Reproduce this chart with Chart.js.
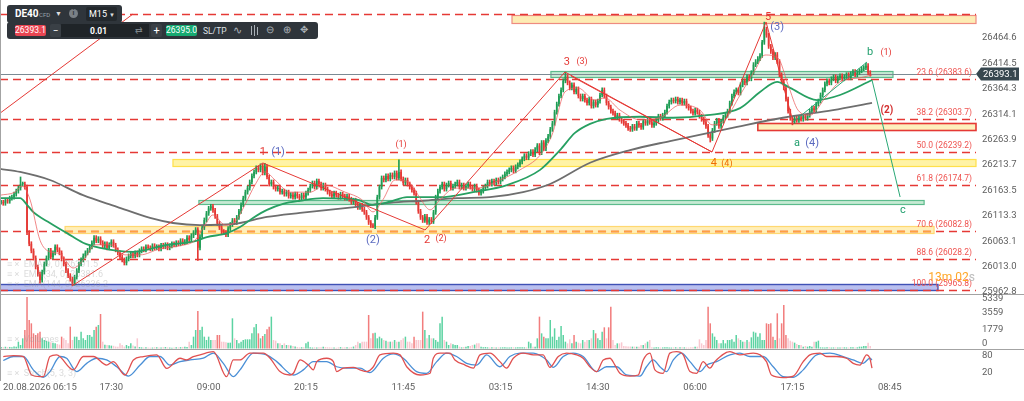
<!DOCTYPE html>
<html>
<head>
<meta charset="utf-8">
<title>DE40 M15</title>
<script src="https://cdn.jsdelivr.net/npm/chart.js@4.4.1/dist/chart.umd.min.js"></script>
<style>
  html, body { margin: 0; padding: 0; background: #fff; }
  #wrap { position: relative; width: 1024px; height: 401px; overflow: hidden; font-family: Roboto, Arial, sans-serif; }
  canvas { display: block; }
  .tb { position: absolute; background: #2f353b; border-radius: 3px; }
  .tb span, .tb div { position: absolute; white-space: nowrap; line-height: 1; color: #fff; }
  .box { border-radius: 2px; text-align: center; }
</style>
</head>
<body>
<div id="wrap">
  <canvas id="chart" width="1024" height="401"></canvas>

  <!-- instrument row -->
  <div class="tb" style="left:7px;top:5px;width:115px;height:18px;">
    <span style="left:8px;top:4px;font-size:10px;font-weight:700;">DE40</span>
    <span style="left:32px;top:7px;font-size:6px;color:#9aa3ab;">CFD</span>
    <span style="left:48px;top:6px;font-size:7px;color:#ddd;">▼</span>
    <div style="left:62px;top:4px;width:9px;height:9px;border-radius:50%;background:#7a8086;color:#2f353b;font-size:7px;font-weight:700;line-height:9px;text-align:center;">i</div>
    <div class="box" style="left:79px;top:2px;width:31px;height:14px;background:#23282c;">
      <span style="left:3px;top:3px;font-size:9px;">M15</span>
      <span style="left:23px;top:5px;font-size:6px;color:#ddd;">▼</span>
    </div>
  </div>

  <!-- order row -->
  <div class="tb" style="left:7px;top:22px;width:311px;height:17px;">
    <div class="box" id="bidBox" style="left:8px;top:3px;width:31px;height:11px;background:#e84552;font-size:8.5px;line-height:11px;"></div>
    <div class="box" style="left:43px;top:2px;width:11px;height:13px;background:#3a4046;font-size:10px;line-height:13px;">−</div>
    <div style="left:54px;top:2px;width:88px;height:13px;background:#1f2428;"></div>
    <span id="lotText" style="left:83px;top:5px;font-size:8.5px;font-weight:700;"></span>
    <span style="left:128px;top:4px;font-size:9px;color:#7d848a;">⇄</span>
    <div class="box" style="left:144px;top:2px;width:11px;height:13px;background:#3a4046;font-size:11px;line-height:13px;">+</div>
    <div class="box" id="askBox" style="left:159px;top:3px;width:31px;height:11px;background:#16a971;font-size:8.5px;line-height:11px;"></div>
    <span style="left:196px;top:5px;font-size:8.5px;color:#dfe3e6;">SL/TP</span>
    <span style="left:226px;top:3px;font-size:11px;color:#aab1b7;">∿</span>
    <div style="left:244px;top:4px;width:1px;height:9px;background:#aab1b7;"></div>
    <div style="left:247px;top:3px;width:1px;height:11px;background:#aab1b7;"></div>
    <div style="left:250px;top:5px;width:1px;height:8px;background:#aab1b7;"></div>
    <span style="left:259px;top:3px;font-size:10px;color:#aab1b7;">⊖</span>
    <span style="left:276px;top:3px;font-size:10px;color:#aab1b7;">⊕</span>
    <span style="left:293px;top:3px;font-size:10px;color:#aab1b7;">✥</span>
  </div>
</div>

<script>
// ---- axis / label data ----
const xTickBars = [6, 51, 96, 141, 186, 231, 276, 321, 366, 411];
const xTickLabels = ['20.08.2026 06:15', '17:30', '09:00', '20:15', '11:45', '03:15', '14:30', '06:00', '17:15', '08:45'];
const priceTicks = [26464.6, 26414.5, 26364.3, 26314.1, 26263.9, 26213.7, 26163.5, 26113.3, 26063.1, 26013.0, 25962.8];
const volumeTicks = [0, 1779, 3559, 5339];
const stochTicks = [20, 80];

const lastPrice = 26393.1;
const askPrice = 26395.0;
const lotSize = '0.01';

// ---- candles (M15 closes, open = previous close) ----
const firstOpen = 26140;
const closes = [
  26140, 26138, 26144, 26142, 26148, 26150, 26156, 26162, 26168, 26176,
  26176, 26170, 26080, 26058, 26044, 26030, 26012, 25998, 25986, 26002,
  26018, 26030, 26045, 26032, 26040, 26052, 26046, 26040, 26028, 26018,
  26005, 25995, 25988, 25980, 25992, 26005, 26018, 26026, 26034, 26040,
  26045, 26052, 26060, 26070, 26064, 26068, 26060, 26054, 26058, 26050,
  26056, 26062, 26055, 26046, 26040, 26032, 26026, 26020, 26028, 26034,
  26038, 26034, 26040, 26036, 26044, 26048, 26046, 26052, 26050, 26048,
  26054, 26050, 26052, 26048, 26055, 26052, 26056, 26050, 26054, 26058,
  26056, 26060, 26058, 26064, 26060, 26062, 26070, 26066, 26074, 26080,
  26086, 26050, 26072, 26090, 26105, 26118, 26128, 26132, 26124, 26112,
  26098, 26090, 26082, 26080, 26076, 26088, 26096, 26104, 26100, 26110,
  26122, 26135, 26148, 26160, 26168, 26180, 26192, 26200, 26208, 26204,
  26212, 26198, 26210, 26190, 26176, 26180, 26170, 26166, 26168, 26160,
  26162, 26156, 26160, 26152, 26155, 26150, 26156, 26152, 26148, 26154,
  26150, 26158, 26164, 26172, 26178, 26170, 26182, 26176, 26168, 26174,
  26166, 26160, 26156, 26152, 26158, 26154, 26150, 26156, 26152, 26148,
  26152, 26146, 26140, 26144, 26136, 26130, 26134, 26126, 26120, 26110,
  26100, 26094, 26092, 26110, 26150, 26170, 26188, 26184, 26192, 26186,
  26194, 26190, 26198, 26188, 26200, 26186, 26178, 26184, 26176, 26170,
  26164, 26158, 26140, 26122, 26110, 26104, 26112, 26100, 26106, 26102,
  26120, 26150, 26162, 26170, 26176, 26166, 26174, 26178, 26168, 26172,
  26176, 26180, 26170, 26174, 26168, 26172, 26176, 26170, 26166, 26172,
  26164, 26158, 26162, 26168, 26172, 26180, 26176, 26182, 26178, 26184,
  26180, 26186, 26190, 26196, 26200, 26204, 26208, 26202, 26210, 26214,
  26220, 26226, 26232, 26228, 26236, 26240, 26234, 26244, 26252, 26238,
  26258, 26246, 26262, 26270, 26284, 26296, 26318, 26334, 26350, 26362,
  26380, 26388, 26376, 26366, 26372, 26358, 26364, 26350, 26344, 26350,
  26342, 26336, 26344, 26330, 26338, 26332, 26340, 26352, 26362, 26350,
  26336, 26328, 26320, 26316, 26308, 26312, 26304, 26300, 26296, 26292,
  26286, 26284, 26290, 26286, 26296, 26292, 26288, 26300, 26296, 26302,
  26298, 26292, 26296, 26302, 26310, 26306, 26312, 26318, 26330, 26338,
  26342, 26340, 26344, 26338, 26342, 26336, 26340, 26330, 26326, 26320,
  26316, 26322, 26318, 26310, 26304, 26298, 26290, 26272, 26266, 26282,
  26296, 26302, 26290, 26300, 26308, 26312, 26320, 26336, 26350, 26358,
  26362, 26356, 26372, 26380, 26376, 26388, 26384, 26396, 26412, 26418,
  26424, 26430, 26456, 26482, 26470, 26448, 26438, 26426, 26432, 26418,
  26392, 26378, 26366, 26344, 26320, 26306, 26300, 26306, 26302, 26308,
  26304, 26310, 26306, 26312, 26320, 26326, 26322, 26334, 26340, 26352,
  26362, 26374, 26380, 26376, 26384, 26388, 26380, 26386, 26390, 26384,
  26388, 26392, 26386, 26394, 26398, 26392, 26396, 26400, 26404, 26406,
  26410, 26396, 26393.1
];
// bars whose wick sticks out further than usual
const spikeBars  = [9, 18, 33, 91, 122, 172, 184, 197, 261, 328, 353, 366, 400];
const spikeHighs = [26190, null, null, null, 26217, null, 26224, null, 26397, null, 26496, null, 26415];
const spikeLows  = [null, 25980, 25975, 26025, null, 26090, null, 26096, null, 26259, null, 26293, null];

const volumes = [
  150, 120, 180, 140, 160, 130, 200, 170, 708, 362,
  1054, 1918, 5339, 2956, 2610, 1572, 1400, 1572, 1745, 1054,
  881, 800, 708, 650, 605, 535, 466, 400, 1227, 1054,
  881, 535, 2264, 881, 1227, 1227, 881, 1745, 1054, 881,
  1400, 1400, 1227, 1918, 2264, 2437, 3578, 708, 400, 362,
  330, 300, 280, 200, 180, 535, 362, 200, 362, 250,
  535, 300, 200, 1054, 150, 120, 100, 130, 110, 90,
  100, 140, 120, 100, 110, 130, 150, 120, 100, 90,
  110, 130, 120, 140, 160, 180, 150, 708, 362, 1227,
  1918, 3890, 1918, 2264, 1227, 881, 1227, 881, 881, 881,
  1400, 1400, 708, 700, 640, 605, 605, 3129, 1054, 881,
  535, 708, 881, 951, 951, 951, 1572, 2195, 2541, 1572,
  1054, 1296, 1504, 1987, 2264, 3302, 881, 812, 535, 535,
  362, 535, 362, 362, 300, 259, 200, 150, 120, 130,
  140, 535, 708, 120, 100, 130, 110, 140, 120, 190,
  150, 130, 120, 110, 100, 90, 120, 140, 110, 130,
  120, 100, 150, 200, 362, 708, 535, 708, 708, 708,
  3474, 1054, 1572, 1642, 1054, 1227, 1054, 881, 800, 708,
  708, 708, 881, 708, 708, 881, 1054, 1227, 708, 708,
  535, 1227, 881, 881, 881, 3820, 1918, 1054, 1400, 1054,
  1054, 881, 708, 2610, 3302, 881, 708, 362, 535, 432,
  362, 362, 190, 120, 150, 190, 259, 259, 362, 400,
  535, 535, 190, 120, 150, 120, 100, 130, 120, 110,
  120, 110, 120, 130, 110, 100, 120, 130, 110, 120,
  120, 120, 120, 120, 708, 535, 190, 190, 1054, 3302,
  1572, 1227, 1054, 1054, 2956, 1227, 2091, 881, 1227, 2333,
  1400, 708, 535, 951, 535, 1400, 708, 605, 535, 881,
  708, 881, 881, 1054, 1918, 1572, 1054, 881, 1745, 2195,
  1054, 2195, 4338, 881, 362, 535, 535, 639, 260, 240,
  220, 200, 190, 190, 190, 190, 362, 362, 535, 708,
  881, 120, 110, 130, 120, 100, 110, 120, 130, 110,
  100, 120, 130, 110, 120, 140, 120, 110, 100, 120,
  130, 190, 190, 951, 535, 362, 881, 4338, 2610, 1572,
  1227, 881, 535, 535, 881, 535, 881, 881, 951, 708,
  1400, 1054, 881, 708, 708, 881, 708, 1158, 1745, 1642,
  1227, 1572, 881, 881, 2610, 2541, 2610, 1227, 881, 3647,
  1054, 2610, 4510, 1400, 1054, 812, 708, 605, 466, 362,
  362, 190, 259, 190, 259, 190, 708, 708, 812, 120,
  110, 100, 120, 130, 100, 110, 120, 100, 110, 130,
  120, 110, 100, 120, 130, 110, 120, 190, 190, 259,
  259, 605, 259
];

// ---- moving averages as [bar, price] ----
const emaFast = [
  [-0.5, 26154], [6.4, 26160], [9.7, 26172], [13.4, 26145], [18, 26065], [22.6, 26042], [27.3, 26038],
  [33.3, 26010], [38.8, 26030], [43.4, 26056], [50.4, 26056], [57.3, 26036], [64.3, 26036], [73.5, 26048],
  [82.8, 26054], [89.7, 26065], [94.3, 26095], [98, 26115], [103.6, 26095], [108.2, 26101], [112.8, 26135],
  [117.4, 26174], [122.1, 26200], [126.7, 26184], [133.6, 26160], [142.9, 26160], [149.8, 26174],
  [159.1, 26160], [166.9, 26145], [172, 26121], [176.6, 26145], [182.2, 26184], [189.1, 26178],
  [193.8, 26148], [198.4, 26125], [203, 26145], [209.9, 26168], [220.1, 26168], [230.8, 26184],
  [240, 26204], [249.3, 26233], [254.8, 26273], [260.8, 26358], [266.8, 26366], [274.7, 26342],
  [279.3, 26346], [286.3, 26322], [295.5, 26303], [304.8, 26307], [314, 26332], [323.3, 26322],
  [328.8, 26293], [334.8, 26303], [341.8, 26352], [348.7, 26401], [353.3, 26431], [359.3, 26425],
  [364, 26372], [368.6, 26322], [374.1, 26312], [381.1, 26346], [388, 26378], [397.3, 26386], [402.8, 26391.5]
];
const emaMid = [
  [-0.5, 26148], [8.8, 26148], [12, 26135], [14.8, 26121], [22.6, 26099], [30.5, 26079], [37.9, 26060],
  [45.8, 26050], [61, 26042], [76.7, 26056], [88.8, 26062], [95.2, 26071], [104.5, 26079], [110.5, 26091],
  [116.5, 26109], [123, 26125], [130.4, 26137], [138.3, 26143], [148.9, 26148], [164.6, 26145],
  [172, 26135], [179.9, 26141], [187.7, 26150], [203, 26150], [218.3, 26160], [234, 26174], [249.3, 26204],
  [258.5, 26243], [265.4, 26277], [272.4, 26295], [280.2, 26305], [295.5, 26309], [310.8, 26307],
  [326.5, 26312], [341.8, 26326], [351, 26358], [358.9, 26378], [364.9, 26366], [377.4, 26342],
  [388, 26352], [402.8, 26381.6]
];
const emaSlow = [
  [-0.5, 26206], [8.8, 26200], [22.6, 26184], [37.9, 26154], [53.6, 26131], [68.9, 26109], [79.5, 26099],
  [92, 26095], [107.3, 26097], [123, 26111], [138.3, 26119], [164.6, 26131], [179.9, 26139],
  [195.1, 26143], [210.9, 26148], [226.1, 26150], [241.4, 26160], [253.9, 26176], [272.4, 26218],
  [290.9, 26243], [309.4, 26261], [340.4, 26289], [361.6, 26307], [384.8, 26322], [402.8, 26336.2]
];

// ---- stochastic oscillator, [bar, value] ----
const stochK = [
  [1, 77], [5.7, 80], [10.3, 77], [14.1, 12], [18, 6], [19.5, 6], [22.6, 77], [25.7, 83], [33.4, 30], [38, 77],
  [42.7, 77], [48.8, 47], [51.9, 59], [57.3, 12], [61.2, 65], [65.8, 77], [72, 83], [76.6, 35], [82.8, 71],
  [85.8, 65], [88.9, 77], [92, 83], [98.2, 94], [104.3, 6], [107.4, 65], [110.5, 65], [115.1, 89], [121.3, 89],
  [124.4, 71], [129, 24], [133.6, 12], [135.2, 18], [138.3, 65], [142.1, 47], [144.4, 30], [146, 59],
  [150.6, 71], [153.7, 59], [155.2, 24], [158.3, 36], [162.9, 39], [166, 30], [169.1, 24], [172.2, 41],
  [175.2, 83], [181.4, 89], [184.5, 83], [187.6, 41], [193.8, 12], [198.4, 18], [199.9, 71], [203, 89],
  [207.6, 89], [209.9, 65], [214.6, 47], [218.4, 36], [221.5, 83], [226.1, 89], [230.7, 59], [233.8, 36],
  [236.9, 71], [241.5, 89], [246.1, 83], [250.7, 83], [253.8, 39], [257.7, 77], [261.5, 89], [266.2, 83],
  [269.2, 71], [272.3, 41], [275.4, 24], [278.5, 65], [281.6, 71], [283.9, 47], [286.2, 18], [290.8, 8],
  [294.7, 12], [297, 65], [300.1, 89], [302.4, 30], [306.2, 18], [309.3, 89], [312.4, 94], [315.5, 83],
  [318.6, 24], [321.7, 18], [324.7, 59], [327.8, 36], [330.1, 59], [337.1, 94], [341.7, 83], [347.9, 89],
  [351, 83], [354, 59], [356.3, 12], [361.7, 3], [366.4, 8], [371, 59], [374.1, 83], [378.7, 89], [381.8, 77],
  [386.4, 77], [391, 71], [394.1, 53], [397.2, 47], [400.3, 83], [401.8, 71], [402.8, 36]
];
const stochD = [
  [1, 63], [5.7, 77], [10.3, 77], [14.9, 30], [19.5, 4], [22.6, 24], [27.3, 77], [30.3, 71], [35, 24],
  [39.6, 53], [44.2, 71], [48.8, 65], [53.5, 41], [58.9, 8], [64.3, 47], [68.9, 77], [73.5, 77], [78.1, 47],
  [82.8, 59], [87.4, 65], [93.5, 71], [98.2, 89], [102.8, 53], [107.4, 6], [110.5, 30], [116.7, 89],
  [122.8, 83], [127.5, 59], [135.2, 12], [139.8, 30], [144.4, 59], [150.6, 59], [155.2, 41], [159.8, 36],
  [166, 36], [170.6, 20], [176.8, 71], [181.4, 86], [186, 71], [192.2, 24], [196.8, 18], [201.5, 59],
  [206.1, 89], [210.7, 77], [215.3, 53], [220, 47], [224.6, 83], [230.7, 41], [235.3, 77], [240, 89],
  [246.1, 89], [252.3, 65], [255.4, 39], [260, 77], [264.6, 89], [269.2, 77], [275.4, 24], [280, 41],
  [284.7, 41], [289.3, 12], [295.5, 8], [298.5, 41], [301.6, 65], [304.7, 41], [307.8, 24], [310.9, 65],
  [314.7, 89], [318.6, 59], [323.2, 24], [326.3, 47], [330.9, 59], [337.1, 83], [341.7, 89], [346.3, 77],
  [352.5, 77], [357.1, 41], [361.7, 6], [366.4, 4], [371, 30], [377.2, 83], [383.3, 89], [389.5, 77],
  [394.1, 65], [398.7, 53], [401.8, 71], [402.8, 65]
];

// ---- drawing objects on the price pane ----
const fibRatios = [0, 23.6, 38.2, 50.0, 61.8, 70.6, 88.6, 100.0];
const fibPrices = [26512.7, 26383.6, 26303.7, 26239.2, 26174.7, 26082.8, 26028.2, 25965.8];

const zones = [
  { from: 236.3, to: null, hi: 26510, lo: 26494, kind: 'supply' },
  { from: 254.3, to: 412.5, hi: 26399.4, lo: 26387.5, kind: 'green' },
  { from: 350, to: null, hi: 26296.6, lo: 26282.8, kind: 'redBox' },
  { from: 79.5, to: null, hi: 26225.5, lo: 26211.7, kind: 'yellow' },
  { from: 91.5, to: 426.9, hi: 26144.5, lo: 26136.6, kind: 'green' },
  { from: 29.6, to: 431.5, hi: 26093, lo: 26079.3, kind: 'amber' },
  { from: null, to: 433.3, hi: 25978.5, lo: 25966.7, kind: 'blue' }
];

const waveLines = [
  { pts: [[-0.5, 26316], [61, 26512]], kind: 'red' },
  { pts: [[32.8, 25974.6], [121.1, 26217.6], [196.1, 26085.2], [260.8, 26397.4], [328.8, 26239.3], [353.8, 26496.2], [366.3, 26298.6]], kind: 'red' },
  { pts: [[263.6, 26389.5], [328.8, 26239.3]], kind: 'red' },
  { pts: [[366.3, 26298.6], [400.5, 26417.2]], kind: 'green' },
  { pts: [[402.8, 26381.6], [415.8, 26150.4]], kind: 'green' }
];

const waveLabels = [
  ['1', 121.1, 26239, 'red', 11],   ['(1)', 128.1, 26239, 'blue', 11],
  ['(1)', 185, 26253, 'red', 9],
  ['(2)', 172, 26065, 'blue', 11],
  ['2', 197, 26065, 'red', 11],     ['(2)', 203.5, 26067, 'red', 9],
  ['3', 261.7, 26417, 'red', 11],   ['(3)', 268.7, 26417, 'red', 9],
  ['4', 329.7, 26217, 'orange', 11], ['(4)', 335.7, 26217, 'orange', 9],
  ['5', 354.7, 26506, 'red', 11],   ['(3)', 358.9, 26486, 'blue', 11],
  ['a', 368.1, 26257, 'green', 11], ['(4)', 375.1, 26257, 'blue', 11],
  ['b', 401.9, 26437, 'green', 11], ['(1)', 409.3, 26435, 'red', 9],
  ['(2)', 409.7, 26322, 'redBold', 10],
  ['c', 417.1, 26125, 'green', 11]
];

// ---- styles ----
const FONT = 'Roboto, "Noto Sans", Arial, sans-serif';
const UP = '#1f9d55';
const DOWN = '#e53935';
const VOL_UP = '#5cd3a2';
const VOL_DOWN = '#f27d7d';
const VOL_PALE = '#f9c8d0';
const AXIS_TEXT = '#5f5f5f';
const WICK = 4;

const zoneStyles = {
  supply: { fill: '#fdecb4', line: '#ee8b80', width: 1.2 },
  green:  { fill: '#c6ead3', line: '#5cbb8c', width: 1.2 },
  redBox: { fill: '#fdf0bd', line: '#e53935', width: 1.6 },
  yellow: { fill: '#fff3a6', line: '#ffe04a', width: 1.2 },
  amber:  { fill: '#ffefb8', line: '#ffd870', width: 1.2 },
  blue:   { fill: '#b9bfef', line: '#3f51b5', width: 1.4 }
};
const labelColors = { red: '#e53935', redBold: '#d32f2f', blue: '#5c6bc0', green: '#1f9e6c', orange: '#ef6c00' };
const lineColors = { red: '#e53935', green: '#2aa876' };

// ---- derived candle geometry ----
const opens = closes.map((c, i) => i === 0 ? firstOpen : closes[i - 1]);
const highs = closes.map((c, i) => Math.max(opens[i], c) + WICK);
const lows = closes.map((c, i) => Math.min(opens[i], c) - WICK);
spikeBars.forEach((b, k) => {
  if (spikeHighs[k] != null) highs[b] = spikeHighs[k];
  if (spikeLows[k] != null) lows[b] = spikeLows[k];
});
const candleColors = closes.map((c, i) => c >= opens[i] ? UP : DOWN);
const volumeColors = volumes.map((v, i) => {
  if (closes[i] >= opens[i]) return VOL_UP;
  return v < 1100 ? VOL_PALE : VOL_DOWN;
});

const toXY = arr => arr.map(([b, v]) => ({ x: b, y: v }));

// ---- overlay plugin: zones, fib levels, waves, labels ----
const overlay = {
  id: 'overlay',
  beforeDatasetsDraw(chart) {
    const { ctx, chartArea: area } = chart;
    const x = chart.scales.x, y = chart.scales.y;
    ctx.save();

    zones.forEach(z => {
      const st = zoneStyles[z.kind];
      const x0 = z.from == null ? area.left : x.getPixelForValue(z.from);
      const x1 = z.to == null ? area.right : x.getPixelForValue(z.to);
      const y0 = Math.round(y.getPixelForValue(z.hi)) + 0.5;
      const y1 = Math.round(y.getPixelForValue(z.lo)) + 0.5;
      ctx.fillStyle = st.fill;
      ctx.fillRect(x0, y0, x1 - x0, y1 - y0);
      ctx.strokeStyle = st.line;
      ctx.lineWidth = st.width;
      ctx.strokeRect(x0, y0, x1 - x0, y1 - y0);
    });

    // fib levels
    ctx.setLineDash([8, 5]);
    ctx.lineWidth = 1.6;
    ctx.strokeStyle = '#e53935';
    fibPrices.forEach(p => {
      const yy = Math.round(y.getPixelForValue(p)) + 0.5;
      ctx.beginPath();
      ctx.moveTo(area.left, yy);
      ctx.lineTo(area.right, yy);
      ctx.stroke();
    });
    // orange dashed level inside the amber zone
    const amber = zones.find(z => z.kind === 'amber');
    const ya = Math.round(y.getPixelForValue(fibPrices[5])) + 0.5;
    ctx.strokeStyle = '#ffa040';
    ctx.beginPath();
    ctx.moveTo(x.getPixelForValue(amber.from), ya);
    ctx.lineTo(x.getPixelForValue(amber.to), ya);
    ctx.stroke();
    ctx.setLineDash([]);

    // last price line
    const yl = Math.round(y.getPixelForValue(lastPrice)) + 0.5;
    ctx.strokeStyle = '#7b8a93';
    ctx.lineWidth = 1;
    ctx.beginPath();
    ctx.moveTo(area.left, yl);
    ctx.lineTo(area.right, yl);
    ctx.stroke();
    ctx.restore();
  },

  afterDatasetsDraw(chart) {
    const { ctx, chartArea: area } = chart;
    const x = chart.scales.x, y = chart.scales.y;
    ctx.save();

    waveLines.forEach(w => {
      ctx.strokeStyle = lineColors[w.kind];
      ctx.lineWidth = 1;
      ctx.beginPath();
      w.pts.forEach(([b, p], i) => {
        const px = x.getPixelForValue(b), py = y.getPixelForValue(p);
        if (i === 0) ctx.moveTo(px, py); else ctx.lineTo(px, py);
      });
      ctx.stroke();
    });

    ctx.textAlign = 'center';
    ctx.textBaseline = 'middle';
    waveLabels.forEach(([t, b, p, c, s]) => {
      ctx.font = (c === 'redBold' ? '700 ' : '') + s + 'px ' + FONT;
      ctx.fillStyle = labelColors[c];
      ctx.fillText(t, x.getPixelForValue(b), y.getPixelForValue(p));
    });

    // fib texts
    ctx.font = '8.5px ' + FONT;
    ctx.fillStyle = '#ef5350';
    ctx.textAlign = 'right';
    ctx.textBaseline = 'bottom';
    fibRatios.forEach((r, i) => {
      if (i === 0) return;
      const yy = y.getPixelForValue(fibPrices[i]);
      ctx.fillText(r.toFixed(1) + ' (' + fibPrices[i].toFixed(1) + ')', area.right - 4, yy - 2);
    });

    // indicator legends (faint)
    ctx.textAlign = 'left';
    ctx.textBaseline = 'middle';
    ctx.font = '9px ' + FONT;
    ctx.fillStyle = 'rgba(150,150,150,0.35)';
    const last = a => a[a.length - 1][1].toFixed(1);
    ctx.fillText('≡ ×  EMA(9, 0) ' + last(emaFast), 7, 265);
    ctx.fillText('≡ ×  EMA(34, 0) ' + last(emaMid), 7, 275);
    ctx.fillText('≡ ×  EMA(144, 0) ' + last(emaSlow), 7, 285);
    ctx.fillText('≡ ×  Volumes', 7, 340);
    ctx.fillText('≡ ×  Stoch(5, 3, 3)', 7, 374);

    // candle countdown
    ctx.textAlign = 'right';
    ctx.font = '12px ' + FONT;
    ctx.fillStyle = '#bdbdbd';
    ctx.fillText('s', area.right - 1, 278);
    const sw = ctx.measureText('s').width;
    ctx.fillStyle = '#ffa726';
    ctx.fillText('13m 02', area.right - 1 - sw, 278);
    ctx.restore();
  },

  afterDraw(chart) {
    const { ctx, chartArea: area, width } = chart;
    const x = chart.scales.x, y = chart.scales.y, yv = chart.scales.yv;
    ctx.save();

    // pane separators and left edge
    ctx.strokeStyle = '#a3a3a3';
    ctx.lineWidth = 1;
    [y.bottom, yv.bottom].forEach(b => {
      const yy = Math.round(b) + 0.5;
      ctx.beginPath(); ctx.moveTo(0, yy); ctx.lineTo(width, yy); ctx.stroke();
    });
    ctx.beginPath(); ctx.moveTo(0.5, 0); ctx.lineTo(0.5, area.bottom); ctx.stroke();

    // volume axis labels, kept inside their pane
    ctx.font = '9.5px ' + FONT;
    ctx.fillStyle = AXIS_TEXT;
    ctx.textAlign = 'left';
    ctx.textBaseline = 'middle';
    volumeTicks.forEach(v => {
      let py = yv.getPixelForValue(v) - 2;
      py = Math.min(Math.max(py, yv.top + 4.5), yv.bottom - 5);
      ctx.fillText(String(v), area.right + 6, py);
    });

    // time labels
    xTickBars.forEach((b, i) => {
      const t = xTickLabels[i];
      const w = ctx.measureText(t).width;
      const left = Math.max(3, x.getPixelForValue(b) - w / 2);
      ctx.fillText(t, left, area.bottom + 7);
    });

    // last price tag
    const yl = Math.round(y.getPixelForValue(lastPrice));
    const tx = area.right;
    ctx.fillStyle = '#37474f';
    ctx.beginPath();
    ctx.moveTo(tx, yl);
    ctx.lineTo(tx + 5, yl - 6.5);
    ctx.lineTo(tx + 43, yl - 6.5);
    ctx.lineTo(tx + 43, yl + 6.5);
    ctx.lineTo(tx + 5, yl + 6.5);
    ctx.closePath();
    ctx.fill();
    ctx.fillStyle = '#fff';
    ctx.fillText(lastPrice.toFixed(1), tx + 7, yl + 0.5);
    ctx.restore();
  }
};

function rightAxis(weight, min, max, ticks, fmt, showLabels) {
  return {
    type: 'linear',
    position: 'right',
    stack: 'panes',
    stackWeight: weight,
    min: min,
    max: max,
    grid: { display: false, drawTicks: false },
    border: { display: false },
    afterBuildTicks: s => { s.ticks = ticks.map(v => ({ value: v })); },
    afterFit: s => { s.width = 48; s.paddingTop = 0; s.paddingBottom = 0; },
    ticks: {
      display: showLabels,
      autoSkip: false,
      padding: 6,
      color: AXIS_TEXT,
      font: { family: FONT, size: 9.5 },
      callback: fmt
    }
  };
}

document.getElementById('bidBox').textContent = lastPrice.toFixed(1);
document.getElementById('askBox').textContent = askPrice.toFixed(1);
document.getElementById('lotText').textContent = lotSize;

new Chart(document.getElementById('chart'), {
  type: 'bar',
  data: {
    datasets: [
      {
        type: 'line', label: 'EMA fast', yAxisID: 'y', order: 1,
        data: toXY(emaFast), borderColor: 'rgba(236,96,96,0.75)', borderWidth: 1,
        pointRadius: 0, cubicInterpolationMode: 'monotone'
      },
      {
        type: 'line', label: 'EMA mid', yAxisID: 'y', order: 2,
        data: toXY(emaMid), borderColor: '#27a062', borderWidth: 1.8,
        pointRadius: 0, cubicInterpolationMode: 'monotone'
      },
      {
        type: 'line', label: 'EMA slow', yAxisID: 'y', order: 3,
        data: toXY(emaSlow), borderColor: '#6e6e6e', borderWidth: 1.8,
        pointRadius: 0, cubicInterpolationMode: 'monotone'
      },
      {
        type: 'bar', label: 'Body', yAxisID: 'y', order: 5, grouped: false,
        data: closes.map((c, i) => ({ x: i, y: [opens[i], c] })),
        backgroundColor: candleColors, barPercentage: 0.74, categoryPercentage: 1, minBarLength: 1
      },
      {
        type: 'bar', label: 'Wick', yAxisID: 'y', order: 6, grouped: false,
        data: closes.map((c, i) => ({ x: i, y: [lows[i], highs[i]] })),
        backgroundColor: candleColors, barThickness: 1
      },
      {
        type: 'bar', label: 'Volume', yAxisID: 'yv', order: 7, grouped: false,
        data: volumes.map((v, i) => ({ x: i, y: v })),
        backgroundColor: volumeColors, barPercentage: 0.7, categoryPercentage: 1
      },
      {
        type: 'line', label: '%K', yAxisID: 'ys', order: 1,
        data: toXY(stochK), borderColor: '#e05050', borderWidth: 1.3,
        pointRadius: 0, cubicInterpolationMode: 'monotone'
      },
      {
        type: 'line', label: '%D', yAxisID: 'ys', order: 2,
        data: toXY(stochD), borderColor: '#4a8fd6', borderWidth: 1.3,
        pointRadius: 0, cubicInterpolationMode: 'monotone'
      }
    ]
  },
  options: {
    responsive: false,
    animation: false,
    events: [],
    layout: { padding: { left: 0, right: 0, top: 0, bottom: 20 } },
    plugins: { legend: { display: false }, tooltip: { enabled: false } },
    scales: {
      x: { type: 'linear', min: -0.5, max: 450.9, offset: false, grid: { offset: false }, display: false },
      y: rightAxis(294, 25958.7, 26539.7, priceTicks, v => v.toFixed(1), true),
      yv: rightAxis(55, -52, 5650, volumeTicks, v => String(v), false),
      ys: rightAxis(32, -9.2, 103.5, stochTicks, v => String(v), true)
    }
  },
  plugins: [overlay]
});
</script>
</body>
</html>
